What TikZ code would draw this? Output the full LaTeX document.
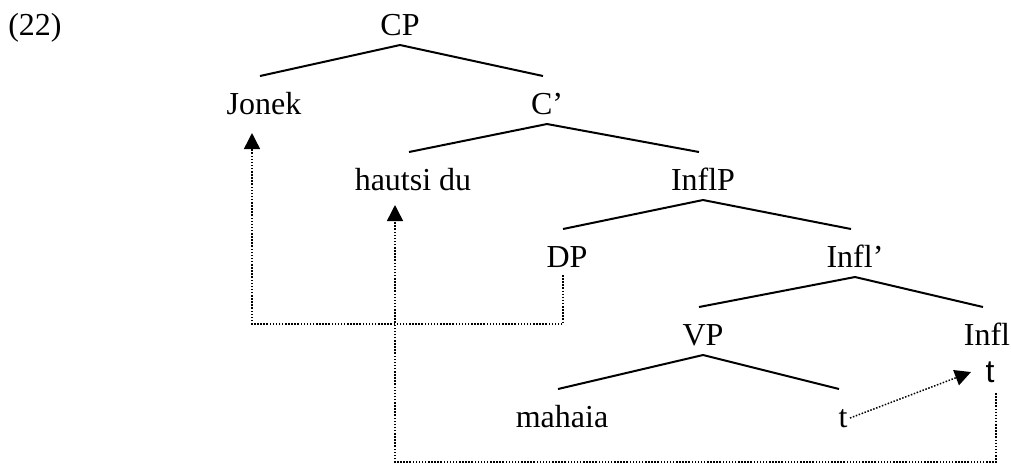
\documentclass[tikz,border=0pt]{standalone}
\usepackage{fontspec}
\setmainfont{Liberation Serif}
\newfontfamily\arialfont{Liberation Sans}
\usetikzlibrary{calc,arrows.meta}
% branch from a mother node to a daughter node
\newcommand{\treeline}[2]{\draw[brnch] ($(#1.base)+(0,10)$) -- ($(#2.base)+(-4,-38)$);}

\begin{document}
\begin{tikzpicture}[x=0.5pt,y=-0.5pt,
	lbl/.style={anchor=base,inner sep=0pt,font=\fontsize{16}{19}\selectfont},
	brnch/.style={line width=1pt},
	mv/.style={line width=0.75pt,dash pattern=on 0.75pt off 0.8pt,
		-{Triangle[width=8pt,length=8pt]}}]
	\useasboundingbox (0,0) rectangle (1011,463);
	\node[lbl] (ex) at (35,35) {(22)};
	\node[lbl] (cp) at (400,35) {CP};
	\node[lbl] (jonek) at (264,114) {Jonek};
	\node[lbl] (cbar) at (547,114) {C’};
	\node[lbl] (hautsi) at (413,190) {hautsi du};
	\node[lbl] (inflp) at (703,190) {InflP};
	\node[lbl] (dp) at (567,267) {DP};
	\node[lbl] (inflbar) at (855,267) {Infl’};
	\node[lbl] (vp) at (703,345) {VP};
	\node[lbl] (infl) at (987,345) {Infl};
	\node[lbl,font=\fontsize{16}{19}\selectfont\arialfont] (tinfl) at (990,382) {t};
	\node[lbl] (mahaia) at (562,427) {mahaia};
	\node[lbl] (tv) at (843,427) {t};
	% tree
	\treeline{cp}{jonek}
	\treeline{cp}{cbar}
	\treeline{cbar}{hautsi}
	\treeline{cbar}{inflp}
	\treeline{inflp}{dp}
	\treeline{inflp}{inflbar}
	\treeline{inflbar}{vp}
	\treeline{inflbar}{infl}
	\treeline{vp}{mahaia}
	\treeline{vp}{tv}
	% movement
	\draw[mv] ($(dp.base)+(-4,8)$) -- ++(0,49) -| ($(jonek.base)+(-12,19)$);
	\draw[mv] ($(tinfl.base)+(6,11)$) -- ++(0,69) -| ($(hautsi.base)+(-18,15)$);
	\draw[mv] ($(tv.base)+(7,-9)$) -- ($(tinfl.base)+(-19,-10)$);
\end{tikzpicture}
\end{document}
